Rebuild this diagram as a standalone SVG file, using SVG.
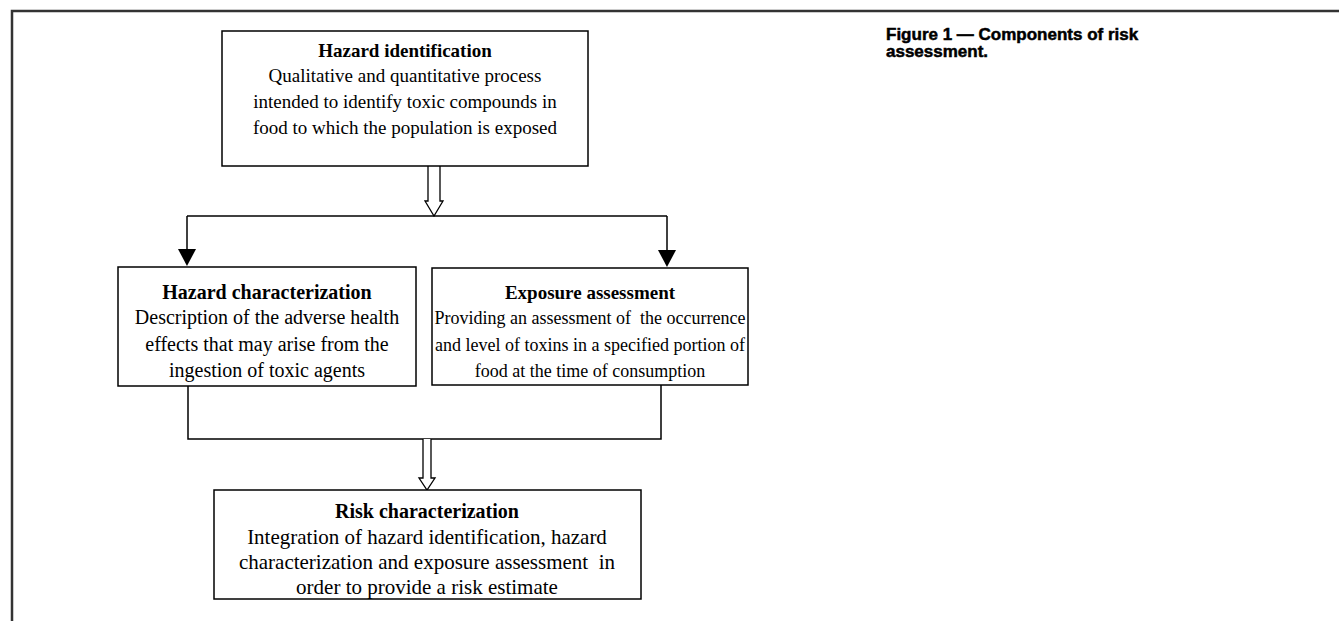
<svg xmlns="http://www.w3.org/2000/svg" width="1339" height="621" viewBox="0 0 1339 621">
<style>
.box{fill:#fff;stroke:#000;stroke-width:1.5}
.t{font-family:"Liberation Serif","Times New Roman",serif;fill:#000;text-anchor:middle;white-space:pre}
.s19{font-size:19px}
.s20{font-size:20px}
.s18{font-size:18px}
.s21{font-size:21px}
.b{font-weight:bold}
.ln{fill:none;stroke:#000;stroke-width:1.5}
.hollow{fill:#fff;stroke:#000;stroke-width:1.3}
.cap{font-family:"Liberation Sans",Arial,sans-serif;font-weight:bold;font-size:17px;fill:#000;stroke:#000;stroke-width:0.5}
</style>
<rect width="1339" height="621" fill="#fff"/>
<g id="frame">
<path d="M12,621 V11 H1339" fill="none" stroke="#333" stroke-width="2.5"/>
</g>
<g id="connectors">
<path class="hollow" d="M428,166 V201 H425 L434,216 L443,201 H440 V166"/>
<path class="ln" d="M187,216 H667"/>
<path class="ln" d="M187,216 V249"/>
<path d="M178,249 L196,249 L187,266 Z" fill="#000"/>
<path class="ln" d="M667,216 V250"/>
<path d="M658,250 L676,250 L667,267 Z" fill="#000"/>
<path class="ln" d="M188,386 V439 H661 V385"/>
<path class="hollow" d="M423,439 V478 H419 L427,490 L435,478 H431 V439"/>
</g>
<g id="hazard-identification">
<rect class="box" x="222" y="31" width="366" height="135"/>
<text class="t s19 b" x="405" y="57">Hazard identification</text>
<text class="t s19" x="405" y="82">Qualitative and quantitative process</text>
<text class="t s19" x="405" y="108">intended to identify toxic compounds in</text>
<text class="t s19" x="405" y="134">food to which the population is exposed</text>
</g>
<g id="hazard-characterization">
<rect class="box" x="118" y="267" width="298" height="119"/>
<text class="t s20 b" x="267" y="299">Hazard characterization</text>
<text class="t s20" x="267" y="324">Description of the adverse health</text>
<text class="t s20" x="267" y="351">effects that may arise from the</text>
<text class="t s20" x="267" y="377">ingestion of toxic agents</text>
</g>
<g id="exposure-assessment">
<rect class="box" x="432" y="268" width="316" height="117"/>
<text class="t s19 b" x="590" y="299">Exposure assessment</text>
<text class="t s18" x="590" y="324">Providing an assessment of  the occurrence</text>
<text class="t s18" x="590" y="351">and level of toxins in a specified portion of</text>
<text class="t s18" x="590" y="377">food at the time of consumption</text>
</g>
<g id="risk-characterization">
<rect class="box" x="214" y="490" width="427" height="109"/>
<text class="t s20 b" x="427" y="518">Risk characterization</text>
<text class="t s21" x="427" y="544">Integration of hazard identification, hazard</text>
<text class="t s21" x="427" y="569">characterization and exposure assessment  in</text>
<text class="t s21" x="427" y="594">order to provide a risk estimate</text>
</g>
<g id="caption">
<text class="cap" x="886" y="40">Figure 1 — Components of risk</text>
<text class="cap" x="886" y="57">assessment.</text>
</g>
</svg>
